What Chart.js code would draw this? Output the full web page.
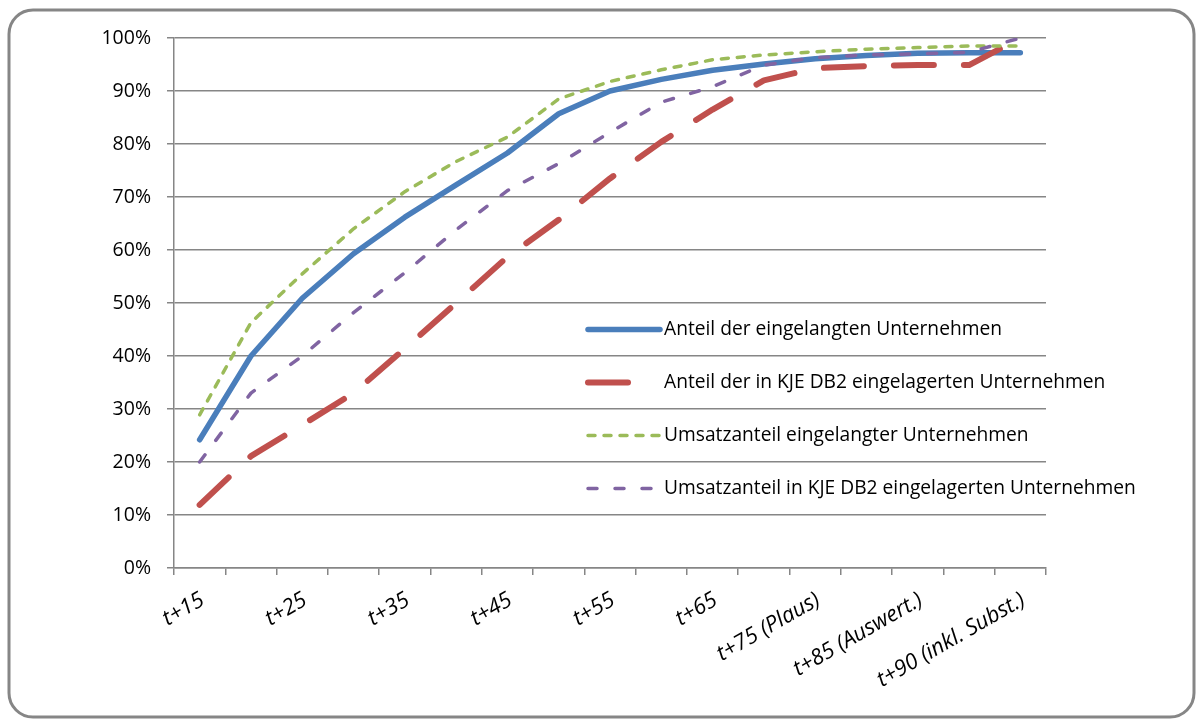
<!DOCTYPE html>
<html>
<head>
<meta charset="utf-8">
<script src="https://cdn.jsdelivr.net/npm/chart.js@4.4.0/dist/chart.umd.min.js"></script>
<style>
    html, body { margin: 0; padding: 0; background: #fff; }
    canvas { display: block; }
</style>
</head>
<body>
<canvas id="chartEinlauf" width="1203" height="724"></canvas>
<script>
// Kategorien der x-Achse (nur jede zweite ist beschriftet)
const kategorien = ['t+15', '', 't+25', '', 't+35', '', 't+45', '', 't+55', '', 't+65', '',
    't+75 (Plaus)', '', 't+85 (Auswert.)', '', 't+90 (inkl. Subst.)'];

// Werte in Prozent
const anteilEingelangt = [24.2, 40, 50.9, 59.3, 66.2, 72.3, 78.3, 85.7, 90, 92.2, 93.9, 95.1, 96.1, 96.7, 97.1, 97.2, 97.2];
const anteilEingelagert = [11.9, 21.1, 27, 33, 41.4, 50, 58.7, 65.7, 73.5, 80.4, 86.5, 92, 94.3, 94.7, 94.9, 94.9, 100];
const umsatzEingelangt = [28.9, 46.3, 55.5, 64, 71, 76.7, 81.3, 88.5, 91.8, 94, 95.9, 96.8, 97.4, 97.9, 98.2, 98.5, 98.5];
const umsatzEingelagert = [20, 33, 40, 48.2, 55.7, 63.8, 71.2, 76.3, 82.2, 87.9, 90.8, 94.9, 96.3, 96.8, 97, 97.3, 100];

const legendenTexte = [
    'Anteil der eingelangten Unternehmen',
    'Anteil der in KJE DB2 eingelagerten Unternehmen',
    'Umsatzanteil eingelangter Unternehmen',
    'Umsatzanteil in KJE DB2 eingelagerten Unternehmen'
];

const schrift = '"Open Sans", "DejaVu Sans", sans-serif';
const grau = '#868686';

// Rahmen mit runden Ecken um das ganze Diagramm
const rahmenPlugin = {
    id: 'rahmen',
    beforeDraw(chart) {
        const ctx = chart.ctx;
        ctx.save();
        ctx.fillStyle = '#fff';
        ctx.fillRect(0, 0, chart.width, chart.height);
        ctx.beginPath();
        ctx.roundRect(9, 10, chart.width - 18, chart.height - 17, 24);
        ctx.lineWidth = 3;
        ctx.strokeStyle = grau;
        ctx.stroke();
        ctx.restore();
    }
};

// Legende liegt im Diagrammbereich, ohne Hintergrund
const legendePlugin = {
    id: 'legendeInnen',
    afterDatasetsDraw(chart) {
        const ctx = chart.ctx;
        const x0 = 588, textX = 664;
        const musterLaenge = [72, 40, 72, 66];
        ctx.save();
        chart.data.datasets.forEach((ds, i) => {
            const y = 329.5 + i * 53;
            ctx.beginPath();
            ctx.setLineDash(ds.borderDash || []);
            ctx.lineCap = 'round';
            ctx.lineWidth = ds.borderWidth;
            ctx.strokeStyle = ds.borderColor;
            ctx.moveTo(x0, y);
            ctx.lineTo(x0 + musterLaenge[i], y);
            ctx.stroke();
            ctx.setLineDash([]);
            ctx.fillStyle = '#000';
            ctx.font = '19.2px ' + schrift;
            ctx.textBaseline = 'middle';
            ctx.textAlign = 'left';
            ctx.fillText(ds.label, textX, y);
        });
        ctx.restore();
    }
};

const ctx = document.getElementById('chartEinlauf').getContext('2d');
const chart = new Chart(ctx, {
    type: 'line',
    data: {
        labels: kategorien,
        datasets: [
            {
                label: legendenTexte[0],
                data: anteilEingelangt,
                borderColor: '#4a7ebb',
                borderWidth: 5.5,
                order: 3
            },
            {
                label: legendenTexte[1],
                data: anteilEingelagert,
                borderColor: '#c0504d',
                borderWidth: 6,
                borderDash: [40, 30],
                order: 2
            },
            {
                label: legendenTexte[2],
                data: umsatzEingelangt,
                borderColor: '#9bbb59',
                borderWidth: 3.5,
                borderDash: [7, 9],
                order: 1
            },
            {
                label: legendenTexte[3],
                data: umsatzEingelagert,
                borderColor: '#8064a2',
                borderWidth: 3.5,
                borderDash: [9, 18],
                order: 0
            }
        ]
    },
    options: {
        responsive: false,
        animation: false,
        events: [],
        layout: {
            padding: { top: 38, right: 157, left: 0, bottom: 0 }
        },
        elements: {
            point: { radius: 0 },
            line: { tension: 0, borderCapStyle: 'round', borderJoinStyle: 'round', fill: false }
        },
        plugins: {
            legend: { display: false },
            tooltip: { enabled: false }
        },
        scales: {
            x: {
                offset: true,
                grid: {
                    offset: true,
                    drawOnChartArea: false,
                    tickLength: 7,
                    color: grau,
                    lineWidth: 1.5
                },
                border: { color: grau, width: 1.5 },
                ticks: {
                    autoSkip: false,
                    maxRotation: 30,
                    minRotation: 30,
                    labelOffset: 3,
                    padding: 12,
                    color: '#000',
                    font: { family: schrift, size: 22, style: 'italic' }
                },
                afterFit(scale) { scale.height = 724 - 568; }
            },
            y: {
                min: 0,
                max: 100,
                ticks: {
                    stepSize: 10,
                    padding: 16,
                    color: '#000',
                    font: { family: schrift, size: 19.5 },
                    callback: v => v + '%'
                },
                grid: {
                    color: grau,
                    lineWidth: 1.5,
                    tickLength: 7
                },
                border: { color: grau, width: 1.5 },
                afterFit(scale) { scale.width = 174; }
            }
        }
    },
    plugins: [rahmenPlugin, legendePlugin]
});
</script>
</body>
</html>
